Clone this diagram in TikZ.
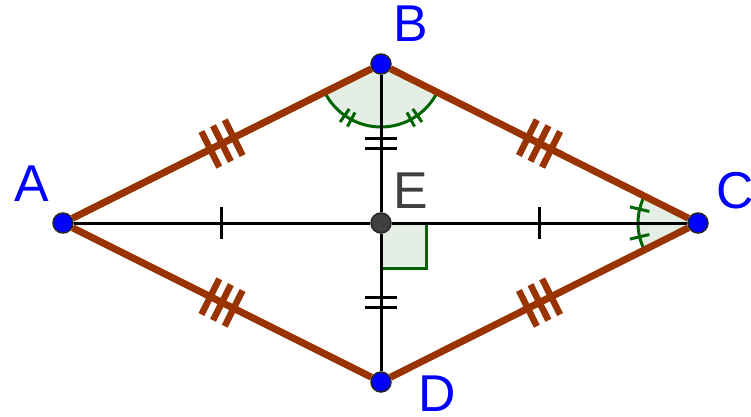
\documentclass[tikz,border=0pt]{standalone}
\usepackage{fontspec}
\setmainfont{Liberation Sans}
\usetikzlibrary{angles, backgrounds, decorations.markings}

\definecolor{sidebrown}{RGB}{153,51,0}
\definecolor{anglefill}{RGB}{228,238,228}
\definecolor{anglegreen}{RGB}{0,100,0}
\definecolor{pointblue}{RGB}{0,0,255}
\definecolor{centregray}{RGB}{64,64,64}

\begin{document}
\begin{tikzpicture}[
    x=1bp, y=1bp,
    point/.style={circle, fill=pointblue, draw=black!85, line width=1.5bp, minimum size=20bp, inner sep=0pt},
    label/.style={inner sep=0pt, text=pointblue, font=\fontsize{52}{56}\selectfont},
    side/.style={draw=sidebrown, line width=7bp},
    diag/.style={draw=black, line width=3bp},
    angmark/.style={draw=anglegreen, line width=3bp},
    onetick/.style={postaction={decorate, decoration={markings,
        mark=at position 0.5 with {\draw[diag] (0bp,-16bp) -- (0bp,16bp);}}}},
    twotick/.style={postaction={decorate, decoration={markings,
        mark=at position 0.5 with {\foreach \s in {-5,5} \draw[diag] (\s bp,-16bp) -- (\s bp,16bp);}}}},
    threetick/.style={postaction={decorate, decoration={markings,
        mark=at position 0.5 with {\foreach \s in {-13,0,13} \draw[side, line width=6.5bp] (\s bp,-20bp) -- (\s bp,20bp);}}}}
]
\useasboundingbox (-381,-193) rectangle (370,223);

% Points of the rhombus
\node[point] (A) at (-318,0) {};
\node[point] (B) at (0,159) {};
\node[point] (C) at (317,0) {};
\node[point] (D) at (0,-159) {};
\node[point, fill=centregray] (E) at (0,0) {};

% Labels
\node[label] (labA) at ([shift={(-31,39)}]A) {A};
\node[label] (labB) at ([shift={(29.5,40)}]B) {B};
\node[label] (labC) at ([shift={(37,32.5)}]C) {C};
\node[label] (labD) at ([shift={(56,-12)}]D) {D};
\node[label, text=centregray] (labE) at ([shift={(29.5,32.5)}]E) {E};

\begin{pgfonlayer}{background}
% Angles at B and C
\pic[angmark, fill=anglefill, angle radius=63bp] {angle=A--B--E};
\pic[angmark, fill=anglefill, angle radius=63bp] {angle=E--B--C};
\pic[angmark, fill=anglefill, angle radius=60bp] {angle=B--C--E};
\pic[angmark, fill=anglefill, angle radius=60bp] {angle=E--C--D};
\foreach \a in {234.8,241.8,298.2,305.2}
    \draw[angmark] ([shift={(\a:55bp)}]B.center) -- ([shift={(\a:71bp)}]B.center);
\foreach \a in {166.7,193.3}
    \draw[angmark] ([shift={(\a:50bp)}]C.center) -- ([shift={(\a:70bp)}]C.center);

% Right angle at E
\fill[anglefill] (E.center) rectangle ++(45,-45);
\draw[angmark] ([shift={(45,0)}]E.center) -- ++(0,-45) -- ++(-45,0);

% Diagonals
\draw[diag, onetick] (A) -- (E);
\draw[diag, onetick] (E) -- (C);
\draw[diag, twotick] (B) -- (E);
\draw[diag, twotick] (E) -- (D);

% Sides
\draw[side, threetick] (A) -- (B);
\draw[side, threetick] (B) -- (C);
\draw[side, threetick] (A) -- (D);
\draw[side, threetick] (D) -- (C);
\end{pgfonlayer}

\end{tikzpicture}
\end{document}
